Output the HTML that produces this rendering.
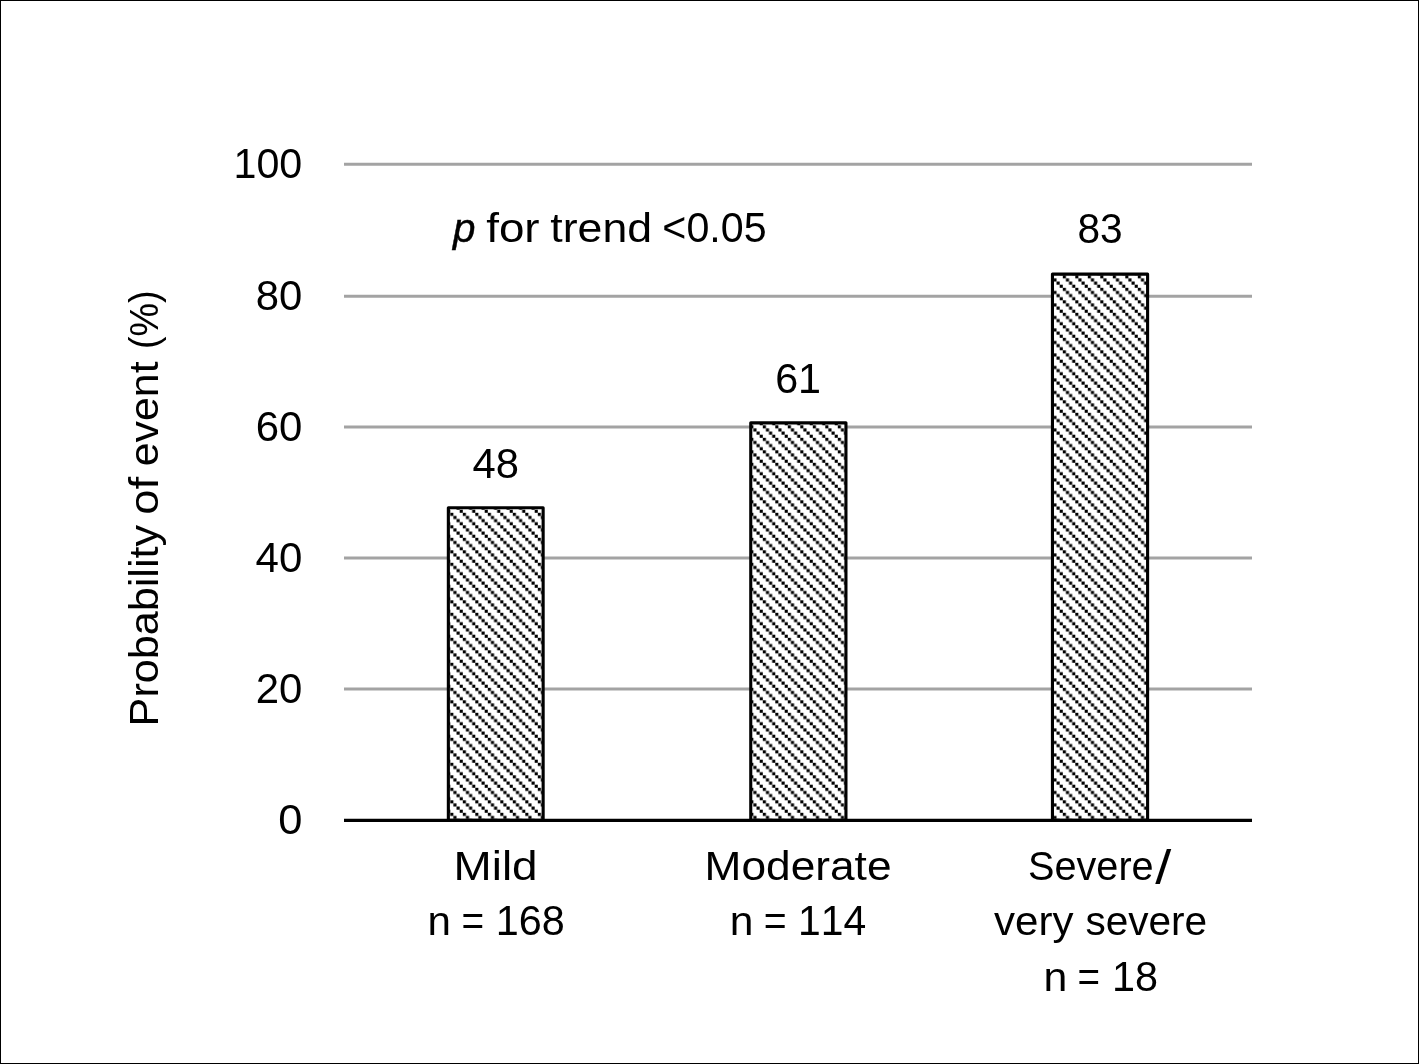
<!DOCTYPE html>
<html lang="en"><head><meta charset="utf-8"><title>Probability of event by severity</title>
<style>
html,body{margin:0;padding:0;background:#fff;}
body{width:1419px;height:1064px;overflow:hidden;}
svg{display:block;}
text{font-family:"Liberation Sans",sans-serif;font-size:41.0px;fill:#000;font-kerning:none;font-variant-ligatures:none;white-space:pre;}
</style></head><body>
<svg width="1419" height="1064" viewBox="0 0 1419 1064">
<defs>
<pattern id="hatch" x="0.3" y="0.3" width="12.5" height="12.5" patternUnits="userSpaceOnUse">
<rect x="0" y="0" width="12.5" height="12.5" fill="#fff"/>
<rect x="0" y="0" width="3.125" height="3.125" fill="#000"/>
<rect x="3.125" y="3.125" width="3.125" height="3.125" fill="#000"/>
<rect x="6.25" y="6.25" width="3.125" height="3.125" fill="#000"/>
<rect x="9.375" y="9.375" width="3.125" height="3.125" fill="#000"/>
</pattern>
</defs>
<rect x="0" y="0" width="1419" height="1064" fill="#fff"/>
<rect x="0.5" y="0.5" width="1418" height="1063" fill="none" stroke="#000" stroke-width="1"/>

<g stroke="#a3a3a3" stroke-width="3">
<line x1="344.0" x2="1252.0" y1="688.90" y2="688.90"/>
<line x1="344.0" x2="1252.0" y1="557.90" y2="557.90"/>
<line x1="344.0" x2="1252.0" y1="427.00" y2="427.00"/>
<line x1="344.0" x2="1252.0" y1="296.25" y2="296.25"/>
<line x1="344.0" x2="1252.0" y1="164.30" y2="164.30"/>
</g>
<g fill="url(#hatch)" stroke="#000" stroke-width="3.1" stroke-linejoin="round">
<rect x="448.35" y="507.70" width="94.80" height="312.70"/>
<rect x="750.75" y="422.85" width="95.20" height="397.55"/>
<rect x="1052.45" y="274.15" width="95.15" height="546.25"/>
</g>
<line x1="344.0" x2="1252.0" y1="820.4" y2="820.4" stroke="#000" stroke-width="3.2"/>
<g>
<text y="834.00"><tspan x="278.21" textLength="24.17" lengthAdjust="spacingAndGlyphs" font-size="42.2">0</tspan></text>
<text y="702.50"><tspan x="255.65" textLength="46.67" lengthAdjust="spacingAndGlyphs" font-size="42.2">20</tspan></text>
<text y="571.50"><tspan x="255.55" textLength="46.77" lengthAdjust="spacingAndGlyphs" font-size="42.2">40</tspan></text>
<text y="440.60"><tspan x="255.65" textLength="46.67" lengthAdjust="spacingAndGlyphs" font-size="42.2">60</tspan></text>
<text y="309.85"><tspan x="255.74" textLength="46.57" lengthAdjust="spacingAndGlyphs" font-size="42.2">80</tspan></text>
<text y="177.90"><tspan x="233.49" textLength="68.81" lengthAdjust="spacingAndGlyphs" font-size="42.2">100</tspan></text>
<text y="477.50"><tspan x="472.56" textLength="46.46" lengthAdjust="spacingAndGlyphs" font-size="42.2">48</tspan></text>
<text y="392.70"><tspan x="775.14" textLength="45.87" lengthAdjust="spacingAndGlyphs" font-size="42.2">61</tspan></text>
<text y="243.30"><tspan x="1077.47" textLength="45.20" lengthAdjust="spacingAndGlyphs" font-size="42.2">83</tspan></text>
<text y="879.70"><tspan x="453.52" textLength="84.10" lengthAdjust="spacingAndGlyphs">Mild</tspan></text>
<text y="935.20"><tspan x="427.46" textLength="23.43" lengthAdjust="spacingAndGlyphs">n</tspan> <tspan x="461.56" textLength="22.64" lengthAdjust="spacingAndGlyphs" font-size="42.2">=</tspan> <tspan x="495.70" textLength="69.01" lengthAdjust="spacingAndGlyphs" font-size="42.2">168</tspan></text>
<text y="879.70"><tspan x="704.55" textLength="186.98" lengthAdjust="spacingAndGlyphs">Moderate</tspan></text>
<text y="935.20"><tspan x="729.72" textLength="23.69" lengthAdjust="spacingAndGlyphs">n</tspan> <tspan x="763.64" textLength="22.88" lengthAdjust="spacingAndGlyphs" font-size="42.2">=</tspan> <tspan x="798.04" textLength="68.13" lengthAdjust="spacingAndGlyphs" font-size="42.2">114</tspan></text>
<text y="879.50"><tspan x="1028.12" textLength="125.51" lengthAdjust="spacingAndGlyphs">Severe</tspan><tspan x="1155.20" textLength="16.02" lengthAdjust="spacingAndGlyphs" font-size="48" dy="4.6">/</tspan></text>
<text y="935.20"><tspan x="994.09" textLength="79.42" lengthAdjust="spacingAndGlyphs">very</tspan> <tspan x="1085.38" textLength="121.79" lengthAdjust="spacingAndGlyphs">severe</tspan></text>
<text y="990.80"><tspan x="1043.51" textLength="23.83" lengthAdjust="spacingAndGlyphs">n</tspan> <tspan x="1077.57" textLength="22.52" lengthAdjust="spacingAndGlyphs" font-size="42.2">=</tspan> <tspan x="1111.90" textLength="46.01" lengthAdjust="spacingAndGlyphs" font-size="42.2">18</tspan></text>
<text y="242.30"><tspan x="453.06" textLength="22.45" lengthAdjust="spacingAndGlyphs" font-style="italic" stroke="#000" stroke-width="0.45">p</tspan> <tspan x="486.21" textLength="53.40" lengthAdjust="spacingAndGlyphs">for</tspan> <tspan x="550.33" textLength="101.71" lengthAdjust="spacingAndGlyphs">trend</tspan> <tspan x="662.34" textLength="104.26" lengthAdjust="spacingAndGlyphs" font-size="42.2">&lt;0.05</tspan></text>
<text transform="rotate(-90)" y="158.30"><tspan x="-726.41" textLength="201.52" lengthAdjust="spacingAndGlyphs">Probability</tspan> <tspan x="-514.73" textLength="37.83" lengthAdjust="spacingAndGlyphs">of</tspan> <tspan x="-466.32" textLength="104.86" lengthAdjust="spacingAndGlyphs">event</tspan> <tspan x="-349.06" textLength="58.74" lengthAdjust="spacingAndGlyphs">(%)</tspan></text>
</g>
</svg></body></html>
